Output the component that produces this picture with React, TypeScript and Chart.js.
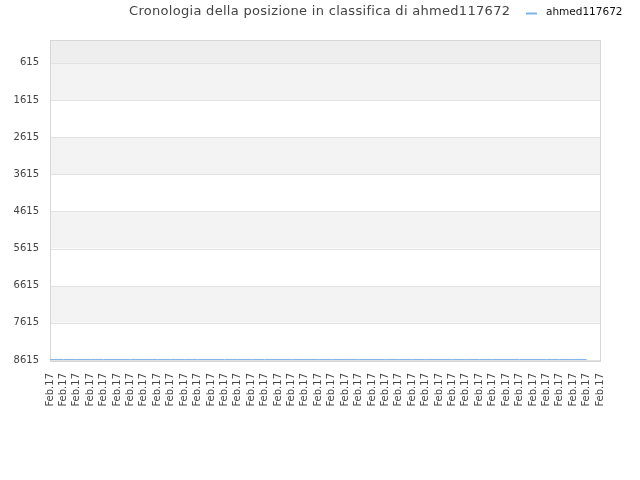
import { useEffect, useRef } from "react";
import { Chart, registerables } from "chart.js";

Chart.register(...registerables);

const TITLE = "Cronologia della posizione in classifica di ahmed117672";
const SERIES_NAME = "ahmed117672";

// 42 days, all labelled Feb.17
const labels: string[] = Array(42).fill("Feb.17");

// ranking position per day (last one has no value)
const positions: (number | null)[] = [
  8600, 8600, 8600, 8600, 8600, 8600, 8600, 8600, 8600, 8600, 8600, 8600, 8600, 8600,
  8600, 8600, 8600, 8600, 8600, 8600, 8600, 8600, 8600, 8600, 8600, 8600, 8600, 8600,
  8600, 8600, 8600, 8600, 8600, 8600, 8600, 8600, 8600, 8600, 8600, 8600, 8600, null,
];

const yTicks = [615, 1615, 2615, 3615, 4615, 5615, 6615, 7615, 8615];
const yMin = 0;
const yMax = 8615;

const LINE_COLOR = "rgba(125, 178, 235, 1)";
const FONT = "'DejaVu Sans', sans-serif";

const decorPlugin = {
  id: "decor",
  beforeDatasetsDraw(chart: any) {
    const { ctx, chartArea } = chart;
    const y = chart.scales.y;
    ctx.save();
    // bands between ticks
    const edges = [yMin, ...yTicks];
    for (let i = 0; i < edges.length - 1; i++) {
      const top = y.getPixelForValue(edges[i]);
      const bottom = y.getPixelForValue(edges[i + 1]);
      let color = i % 2 === 1 ? "#f3f3f3" : "#ffffff";
      if (i === 0) color = "#eeeeee";
      ctx.fillStyle = color;
      ctx.fillRect(chartArea.left, top, chartArea.right - chartArea.left, bottom - top);
    }
    ctx.strokeStyle = "#e2e2e2";
    ctx.lineWidth = 1;
    yTicks.forEach((v) => {
      const py = Math.round(y.getPixelForValue(v)) + 0.5;
      ctx.beginPath();
      ctx.moveTo(chartArea.left, py);
      ctx.lineTo(chartArea.right, py);
      ctx.stroke();
    });
    ctx.strokeStyle = "#d6d6d6";
    ctx.strokeRect(
      Math.round(chartArea.left) + 0.5,
      Math.round(chartArea.top) + 0.5,
      Math.round(chartArea.right - chartArea.left),
      Math.round(chartArea.bottom - chartArea.top) + 1
    );
    ctx.restore();
  },
  afterDraw(chart: any) {
    const { ctx } = chart;
    ctx.save();
    ctx.textBaseline = "middle";
    ctx.fillStyle = "#444444";
    ctx.font = `13px ${FONT}`;
    (ctx as any).letterSpacing = "0.3px";
    ctx.textAlign = "left";
    ctx.fillText(TITLE, 129, 12);
    (ctx as any).letterSpacing = "0px";
    // legend
    ctx.strokeStyle = LINE_COLOR;
    ctx.lineWidth = 2;
    ctx.beginPath();
    ctx.moveTo(526, 13.5);
    ctx.lineTo(537, 13.5);
    ctx.stroke();
    ctx.fillStyle = "#111111";
    ctx.font = `10.5px ${FONT}`;
    ctx.fillText(SERIES_NAME, 546, 12.5);
    ctx.restore();
  },
};

export default function App() {
  const canvasRef = useRef<HTMLCanvasElement>(null);
  const chartRef = useRef<Chart | null>(null);

  useEffect(() => {
    if (!canvasRef.current) return;
    if (chartRef.current) chartRef.current.destroy();

    const config: any = {
      type: "line",
      data: {
        labels,
        datasets: [
          {
            label: SERIES_NAME,
            data: positions,
            borderColor: LINE_COLOR,
            borderWidth: 1,
            pointRadius: 0,
            fill: false,
            tension: 0,
          },
        ],
      },
      options: {
        responsive: false,
        animation: false,
        layout: { padding: { top: 40, right: 40, left: 0, bottom: 0 } },
        plugins: {
          legend: { display: false },
          title: { display: false },
          tooltip: { enabled: false },
        },
        scales: {
          x: {
            offset: false,
            grid: { display: false, drawTicks: false },
            border: { display: false },
            afterFit: (scale: any) => {
              scale.height = 120;
            },
            ticks: {
              autoSkip: false,
              maxRotation: 90,
              minRotation: 90,
              padding: 13,
              color: "#444444",
              font: { family: FONT, size: 10 },
            },
          },
          y: {
            reverse: true,
            min: yMin,
            max: yMax,
            grid: { display: false, drawTicks: false },
            border: { display: false },
            afterFit: (scale: any) => {
              scale.width = 50;
            },
            afterBuildTicks: (scale: any) => {
              scale.ticks = yTicks.map((v) => ({ value: v }));
            },
            ticks: {
              padding: 11,
              color: "#444444",
              font: { family: FONT, size: 10 },
              callback: (value: any) => String(value),
            },
          },
        },
      },
      plugins: [decorPlugin],
    };

    chartRef.current = new Chart(canvasRef.current, config);
    return () => {
      if (chartRef.current) chartRef.current.destroy();
      chartRef.current = null;
    };
  }, []);

  return (
    <div style={{ position: "absolute", left: 0, top: 0, width: 640, height: 480, background: "#fff" }}>
      <canvas ref={canvasRef} width={640} height={480} style={{ width: 640, height: 480 }} />
    </div>
  );
}
